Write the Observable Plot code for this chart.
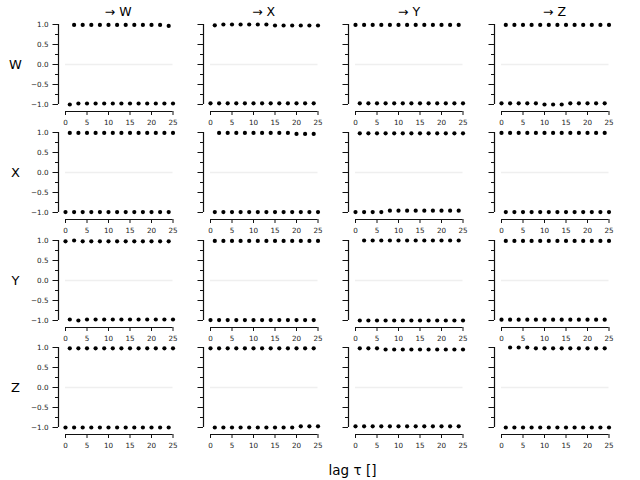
<!DOCTYPE html>
<html><head><meta charset="utf-8">
<script src="https://cdn.jsdelivr.net/npm/d3@7"></script>
<script src="https://cdn.jsdelivr.net/npm/@observablehq/plot@0.6"></script>
<style>
body{margin:0;background:#fff;}
#fig{position:relative;width:640px;height:480px;font-family:"DejaVu Sans",sans-serif;color:#000;overflow:hidden;}
.lbl{position:absolute;white-space:nowrap;font-size:12px;line-height:1;transform:translate(-50%,-50%);}
svg{overflow:visible;}
</style></head><body><div id="fig"></div>
<script>
// variables (rows = source, columns = target)
const variables = ["W", "X", "Y", "Z"];
const xLabel = "lag τ []";
const lags = [0,1,2,3,4,5,6,7,8,9,10,11,12,13,14,15,16,17,18,19,20,21,22,23,24,25];
const xTicks = [0, 5, 10, 15, 20, 25];
const yTicks = [-1, -0.5, 0, 0.5, 1];
const yMinorTicks = [-0.75, -0.25, 0.25, 0.75];

// lag-function values, one array per (source → target) panel, indexed by lag 0..25
const W_W = [null,-1.00,0.99,-0.975,0.99,-0.975,0.99,-0.975,0.99,-0.975,0.99,-0.975,0.99,-0.975,0.99,-0.975,0.99,-0.975,0.99,-0.975,0.99,-0.975,0.99,-0.975,0.965,-0.975];
const W_X = [-0.97,0.98,-0.97,1.00,-0.97,1.00,-0.97,1.00,-0.97,1.00,-0.97,1.00,-0.97,1.00,-0.97,0.975,-0.97,0.975,-0.97,0.975,-0.97,0.975,-0.97,0.975,-0.97,0.975];
const W_Y = [0.99,-0.97,0.99,-0.97,0.99,-0.97,0.99,-0.97,0.99,-0.97,0.99,-0.97,0.99,-0.97,0.99,-0.97,0.99,-0.97,0.99,-0.97,0.99,-0.97,0.99,-0.97,0.99,-0.97];
const W_Z = [-0.97,0.99,-0.97,0.99,-0.97,0.99,-0.97,0.99,-0.97,0.99,-1.00,0.99,-1.00,0.99,-1.00,0.99,-0.97,0.99,-0.97,0.99,-0.97,0.99,-0.97,0.99,-0.97,0.99];

const X_W = [-0.99,0.99,-0.99,0.99,-0.99,0.99,-0.99,0.99,-0.99,0.99,-0.99,0.99,-0.99,0.99,-0.99,0.99,-0.99,0.99,-0.99,0.99,-0.99,0.99,-0.99,0.99,-0.99,0.99];
const X_X = [null,-0.99,0.99,-0.99,0.99,-0.99,0.99,-0.99,0.99,-0.99,0.99,-0.99,0.99,-0.99,0.99,-0.99,0.99,-0.99,0.99,-0.99,0.965,-0.99,0.965,-0.99,0.965,-0.99];
const X_Y = [-0.99,0.98,-0.99,0.98,-0.99,0.98,-0.99,0.98,-0.955,0.98,-0.955,0.98,-0.955,0.98,-0.955,0.98,-0.955,0.98,-0.955,0.98,-0.955,0.98,-0.955,0.98,-0.955,0.98];
const X_Z = [0.99,-0.99,0.99,-0.99,0.99,-0.99,0.99,-0.99,0.99,-0.99,0.99,-0.99,0.99,-0.99,0.99,-0.99,0.99,-0.99,0.99,-0.99,0.99,-0.99,0.99,-0.99,0.99,-0.99];

const Y_W = [0.98,-0.975,1.00,-1.00,0.98,-0.975,0.98,-0.975,0.98,-0.975,0.98,-0.975,0.98,-0.975,0.98,-0.975,0.98,-0.975,0.98,-0.975,0.98,-0.975,0.98,-0.975,0.98,-0.975];
const Y_X = [-0.99,0.99,-0.99,0.99,-0.99,0.99,-0.99,0.99,-0.99,0.99,-0.99,0.99,-0.99,0.99,-0.99,0.99,-0.99,0.99,-0.99,0.99,-0.99,0.99,-0.99,0.99,-0.99,0.99];
const Y_Y = [null,-1.00,1.00,-1.00,1.00,-1.00,1.00,-1.00,1.00,-1.00,1.00,-1.00,1.00,-1.00,1.00,-1.00,1.00,-1.00,1.00,-1.00,1.00,-1.00,1.00,-1.00,1.00,-1.00];
const Y_Z = [-0.98,0.99,-0.98,0.99,-0.98,0.99,-0.98,0.99,-0.98,0.99,-0.98,0.99,-0.98,0.99,-0.98,0.99,-0.98,0.99,-0.98,0.99,-0.98,0.99,-0.98,0.99,-0.98,0.99];

const Z_W = [-1.00,0.98,-1.00,0.98,-1.00,0.98,-1.00,0.98,-1.00,0.98,-1.00,0.98,-1.00,0.98,-1.00,0.98,-1.00,0.98,-1.00,0.98,-1.00,0.98,-1.00,0.98,-1.00,0.98];
const Z_X = [0.98,-1.00,0.98,-1.00,0.98,-1.00,0.98,-1.00,0.98,-1.00,0.98,-1.00,0.98,-1.00,0.98,-1.00,0.98,-1.00,0.98,-1.00,0.98,-0.97,0.98,-0.97,0.98,-0.97];
const Z_Y = [-0.97,0.98,-0.97,0.98,-0.97,0.98,-0.97,0.95,-0.97,0.95,-0.97,0.95,-0.97,0.95,-0.97,0.95,-0.97,0.95,-0.97,0.95,-0.97,0.95,-0.97,0.95,-0.97,0.95];
const Z_Z = [null,-1.00,1.00,-1.00,1.00,-1.00,1.00,-1.00,0.98,-1.00,0.98,-1.00,0.98,-1.00,0.98,-1.00,0.98,-1.00,0.98,-1.00,0.98,-1.00,0.98,-1.00,0.98,-1.00];

const panels = [
  [W_W, W_X, W_Y, W_Z],
  [X_W, X_X, X_Y, X_Z],
  [Y_W, Y_X, Y_Y, Y_Z],
  [Z_W, Z_X, Z_Y, Z_Z]
];

const fig = document.getElementById("fig");
const X0 = 64.5, DX = 145.4, Y0 = 24.3, DY = 107.7;
const PW = 107.5, PH = 80, OFF = 7, ML = 26, MR = 4.5, MT = 4, MB = 17;

function label(text, x, y, size) {
  const d = document.createElement("div");
  d.className = "lbl";
  d.textContent = text;
  d.style.left = x + "px";
  d.style.top = y + "px";
  if (size) d.style.fontSize = size + "px";
  fig.appendChild(d);
}

for (let r = 0; r < 4; r++) {
  for (let c = 0; c < 4; c++) {
    const vals = panels[r][c];
    const data = lags.map((lag, i) => ({lag, value: vals[i]})).filter(d => d.value != null);
    const svg = Plot.plot({
      width: ML + OFF + PW + MR,
      height: MT + PH + OFF + MB,
      marginLeft: ML, marginRight: MR, marginTop: MT, marginBottom: MB,
      x: {domain: [0, 25], insetLeft: OFF, label: null},
      y: {domain: [-1, 1], insetBottom: OFF, label: null},
      style: {background: "transparent", fontFamily: "DejaVu Sans", fontSize: "7.2px", color: "#222", overflow: "visible"},
      marks: [
        Plot.ruleY([0], {x1: 0, x2: 25, stroke: "#efefef", strokeWidth: 1.5}),
        Plot.ruleX([0], {y1: -1, y2: 1, dx: -OFF, stroke: "#111", strokeWidth: 1.2}),
        Plot.ruleY([-1], {x1: 0, x2: 25, dy: OFF, stroke: "#111", strokeWidth: 1.2}),
        Plot.axisY({ticks: yTicks, tickSize: 5.5, tickPadding: 4.5, label: null, stroke: "#111",
          tickFormat: c === 0 ? d3.format(".1f") : () => ""}),
        Plot.axisY({ticks: yMinorTicks, tickSize: 3, label: null, stroke: "#111", tickFormat: () => ""}),
        Plot.axisX({ticks: xTicks, tickSize: 4, tickPadding: 4, label: null, stroke: "#111", fill: "#222"}),
        Plot.dot(data, {x: "lag", y: "value", r: 2.1, fill: "#000", stroke: "none"})
      ]
    });
    svg.style.position = "absolute";
    svg.style.left = (X0 - OFF - ML + c * DX) + "px";
    svg.style.top = (Y0 - MT + r * DY) + "px";
    fig.appendChild(svg);
  }
}

variables.forEach((v, c) => label("→ " + v, X0 + PW / 2 + c * DX, 11.7, 12.5));
variables.forEach((v, r) => label(v, 15.5, Y0 + PH / 2 + r * DY, 13));
label(xLabel, 352.5, 470.7, 13.5);
</script></body></html>
